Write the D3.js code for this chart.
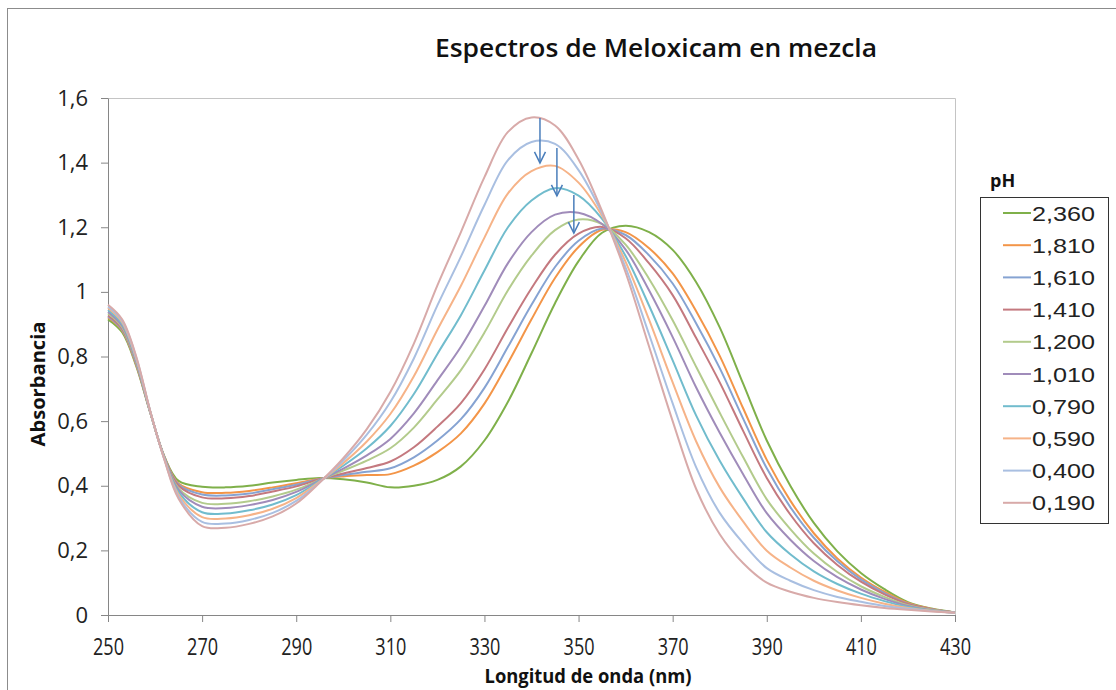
<!DOCTYPE html>
<html>
<head>
<meta charset="utf-8">
<script src="https://cdnjs.cloudflare.com/ajax/libs/d3/7.8.5/d3.min.js"></script>
<style>
  body { margin: 0; background: #fff; }
  svg { display: block; }
</style>
</head>
<body>
<svg width="1116" height="690"></svg>
<script>
var wavelengths = [250,253,256,259,262,265,270,275,280,285,290,295,300,305,310,315,320,325,330,335,340,345,350,355,360,365,370,375,380,385,390,395,400,405,410,415,420,425,430];

var abs_2360 = [0.915,0.875,0.770,0.625,0.490,0.415,0.397,0.395,0.400,0.410,0.418,0.424,0.420,0.410,0.395,0.400,0.418,0.460,0.540,0.660,0.810,0.965,1.095,1.183,1.205,1.185,1.130,1.030,0.890,0.715,0.540,0.400,0.285,0.197,0.130,0.080,0.040,0.020,0.008];
var abs_1810 = [0.921,0.881,0.774,0.626,0.489,0.407,0.380,0.378,0.384,0.395,0.408,0.422,0.429,0.433,0.436,0.462,0.504,0.562,0.654,0.780,0.915,1.043,1.139,1.192,1.185,1.135,1.057,0.940,0.802,0.639,0.480,0.354,0.253,0.175,0.116,0.072,0.037,0.019,0.008];
var abs_1610 = [0.924,0.883,0.776,0.626,0.488,0.404,0.373,0.370,0.376,0.389,0.403,0.421,0.433,0.443,0.454,0.488,0.540,0.606,0.703,0.830,0.960,1.077,1.158,1.196,1.176,1.113,1.026,0.902,0.764,0.607,0.454,0.334,0.239,0.166,0.110,0.068,0.035,0.018,0.008];
var abs_1410 = [0.927,0.886,0.778,0.626,0.487,0.400,0.364,0.361,0.368,0.382,0.398,0.420,0.438,0.455,0.475,0.519,0.583,0.656,0.760,0.889,1.011,1.115,1.180,1.201,1.166,1.088,0.990,0.857,0.720,0.569,0.424,0.311,0.222,0.155,0.103,0.064,0.034,0.018,0.008];
var abs_1200 = [0.933,0.891,0.782,0.627,0.486,0.392,0.347,0.344,0.352,0.367,0.388,0.418,0.447,0.478,0.516,0.580,0.667,0.758,0.874,1.005,1.112,1.191,1.224,1.210,1.146,1.040,0.912,0.768,0.626,0.488,0.358,0.266,0.190,0.133,0.089,0.056,0.030,0.016,0.008];
var abs_1010 = [0.938,0.895,0.785,0.628,0.485,0.387,0.335,0.331,0.340,0.356,0.381,0.417,0.453,0.494,0.545,0.624,0.726,0.830,0.956,1.089,1.185,1.239,1.245,1.210,1.131,1.004,0.860,0.704,0.564,0.435,0.315,0.233,0.167,0.117,0.079,0.050,0.028,0.015,0.008];
var abs_0790 = [0.944,0.901,0.789,0.628,0.484,0.380,0.318,0.314,0.324,0.342,0.371,0.415,0.462,0.516,0.585,0.684,0.808,0.928,1.066,1.200,1.283,1.321,1.298,1.226,1.111,0.957,0.788,0.617,0.477,0.360,0.256,0.188,0.135,0.096,0.066,0.043,0.025,0.014,0.007];
var abs_0590 = [0.950,0.906,0.793,0.629,0.482,0.373,0.303,0.299,0.309,0.329,0.362,0.413,0.470,0.537,0.622,0.739,0.883,1.019,1.168,1.305,1.374,1.390,1.338,1.235,1.093,0.913,0.720,0.537,0.395,0.289,0.199,0.147,0.106,0.076,0.053,0.035,0.022,0.013,0.007];
var abs_0400 = [0.955,0.911,0.797,0.629,0.481,0.366,0.288,0.283,0.294,0.316,0.353,0.411,0.478,0.558,0.659,0.794,0.958,1.109,1.269,1.408,1.464,1.458,1.377,1.243,1.075,0.868,0.655,0.457,0.316,0.222,0.145,0.106,0.077,0.056,0.041,0.028,0.019,0.012,0.007];
var abs_0190 = [0.960,0.915,0.800,0.630,0.480,0.360,0.275,0.270,0.282,0.305,0.345,0.410,0.485,0.575,0.690,0.840,1.020,1.185,1.355,1.495,1.540,1.515,1.410,1.250,1.060,0.830,0.600,0.390,0.250,0.160,0.100,0.072,0.053,0.040,0.030,0.022,0.016,0.011,0.007];

var phLabels = ["2,360","1,810","1,610","1,410","1,200","1,010","0,790","0,590","0,400","0,190"];
var xTicks = [250,270,290,310,330,350,370,390,410,430];
var yTicks = [0,0.2,0.4,0.6,0.8,1,1.2,1.4,1.6];

// arrows: wavelength, absorbance start, absorbance end
var arrowX = [341.8,345.4,349.0];
var arrowFrom = [1.538,1.445,1.300];
var arrowTo = [1.399,1.297,1.182];

var colors = ["#7fb04a","#f39548","#86a3d2","#c4797f","#b3cb8c","#a08cba","#71bccd","#f6b388","#a9bfe1","#d8aaa9"];

var series = [abs_2360,abs_1810,abs_1610,abs_1410,abs_1200,abs_1010,abs_0790,abs_0590,abs_0400,abs_0190].map(function(vals, i) {
  return {
    label: phLabels[i],
    color: colors[i],
    values: vals.map(function(v, j) { return {x: wavelengths[j], y: v}; })
  };
});

var svg = d3.select("svg");

svg.append("rect")
.attr("x", 7.5).attr("y", 8.5)
.attr("width", 1130).attr("height", 700)
.attr("fill", "#fff")
.attr("stroke", "#8c8c8c");

var plotLeft = 108, plotRight = 955, plotTop = 98, plotBottom = 615;

var x = d3.scaleLinear().domain([250, 430]).range([plotLeft, plotRight]);
var y = d3.scaleLinear().domain([0, 1.6]).range([plotBottom, plotTop]);

svg.append("path")
.attr("d", "M" + plotLeft + "," + (plotTop + 0.5) + "H" + (plotRight + 0.5) + "V" + plotBottom)
.attr("fill", "none")
.attr("stroke", "#c4c4c4");

var xAxis = svg.append("g")
.attr("transform", "translate(0," + plotBottom + ")")
.call(d3.axisBottom(x).tickValues(xTicks).tickSize(7).tickPadding(17).tickSizeOuter(0));

var yAxis = svg.append("g")
.attr("transform", "translate(" + plotLeft + ",0)")
.call(d3.axisLeft(y).tickValues(yTicks).tickSize(7).tickPadding(13).tickSizeOuter(0)
  .tickFormat(function(d) { return (d === 0 || d === 1) ? String(d) : d.toFixed(1).replace(".", ","); }));

[xAxis, yAxis].forEach(function(a) {
  a.select(".domain").attr("stroke", "#868686");
  a.selectAll(".tick line").attr("stroke", "#868686");
  a.selectAll("text").attr("fill", "#222").attr("font-family", "'Open Sans', sans-serif");
});
xAxis.selectAll("text")
.attr("font-size", 23)
.attr("textLength", 31)
.attr("lengthAdjust", "spacingAndGlyphs");
yAxis.selectAll("text").attr("font-size", 22);

var line = d3.line()
.x(function(d) { return x(d.x); })
.y(function(d) { return y(d.y); })
.curve(d3.curveCatmullRom.alpha(0.5));

svg.append("g")
.selectAll("path")
.data(series)
.enter().append("path")
.attr("d", function(d) { return line(d.values); })
.attr("fill", "none")
.attr("stroke", function(d) { return d.color; })
.attr("stroke-width", 2)
.attr("stroke-linejoin", "round");

var arrows = svg.append("g")
.attr("stroke", "#4a7ebb")
.attr("stroke-width", 1.5)
.attr("fill", "none");

arrowX.forEach(function(ax, i) {
  var px = x(ax), y0 = y(arrowFrom[i]), y1 = y(arrowTo[i]);
  arrows.append("line")
  .attr("x1", px).attr("y1", y0)
  .attr("x2", px).attr("y2", y1);
  arrows.append("path")
  .attr("d", "M" + (px - 5.5) + "," + (y1 - 11) + "L" + px + "," + y1 + "L" + (px + 5.5) + "," + (y1 - 11));
});

svg.append("text")
.attr("x", 656).attr("y", 57)
.attr("text-anchor", "middle")
.attr("font-family", "'Open Sans', sans-serif")
.attr("font-weight", 600)
.attr("font-size", 25)
.attr("textLength", 442)
.attr("lengthAdjust", "spacingAndGlyphs")
.attr("fill", "#111")
.text("Espectros de Meloxicam en mezcla");

svg.append("text")
.attr("x", 588).attr("y", 683)
.attr("text-anchor", "middle")
.attr("font-family", "'Open Sans', sans-serif")
.attr("font-weight", 700)
.attr("font-size", 20)
.attr("textLength", 207)
.attr("lengthAdjust", "spacingAndGlyphs")
.attr("fill", "#111")
.text("Longitud de onda (nm)");

svg.append("text")
.attr("transform", "translate(45,384) rotate(-90)")
.attr("text-anchor", "middle")
.attr("font-family", "'Open Sans', sans-serif")
.attr("font-weight", 700)
.attr("font-size", 19)
.attr("textLength", 125)
.attr("lengthAdjust", "spacingAndGlyphs")
.attr("fill", "#111")
.text("Absorbancia");

var legend = svg.append("g");

legend.append("text")
.attr("x", 990).attr("y", 187)
.attr("font-family", "'Open Sans', sans-serif")
.attr("font-weight", 700)
.attr("font-size", 18)
.attr("fill", "#111")
.text("pH");

legend.append("rect")
.attr("x", 980.5).attr("y", 197.5)
.attr("width", 128).attr("height", 326)
.attr("fill", "#fff")
.attr("stroke", "#333");

var item = legend.selectAll(".item")
.data(series)
.enter().append("g")
.attr("class", "item")
.attr("transform", function(d, i) { return "translate(0," + (213 + i * 32.2) + ")"; });

item.append("line")
.attr("x1", 1003).attr("x2", 1031)
.attr("stroke", function(d) { return d.color; })
.attr("stroke-width", 2);

item.append("text")
.attr("x", 1032).attr("dy", "0.36em")
.attr("font-family", "'Liberation Sans', Arial, sans-serif")
.attr("font-size", 21)
.attr("textLength", 63)
.attr("lengthAdjust", "spacingAndGlyphs")
.attr("fill", "#222")
.text(function(d) { return d.label; });
</script>
</body>
</html>
